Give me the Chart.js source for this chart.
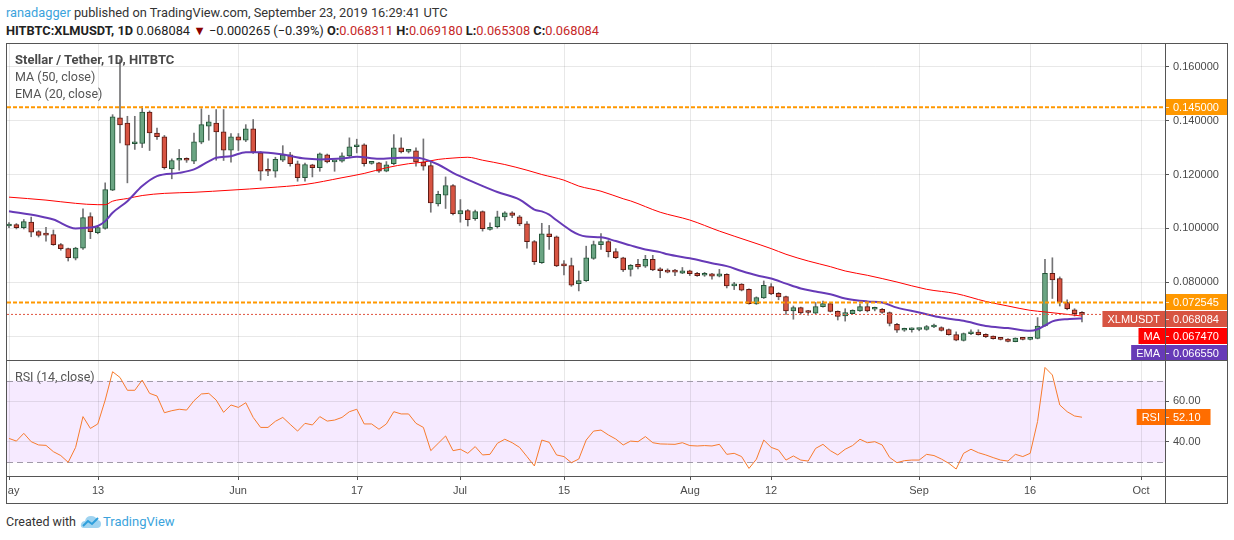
<!DOCTYPE html>
<html><head><meta charset="utf-8">
<script src="https://cdn.jsdelivr.net/npm/chart.js@4.4.0/dist/chart.umd.min.js"></script>
<style>
html,body{margin:0;padding:0;background:#fff;}
body{width:1234px;height:540px;overflow:hidden;position:relative;font-family:Roboto,"Liberation Sans",sans-serif;}
.abs{position:absolute;white-space:nowrap;}
.hd{font-size:12.8px;line-height:18px;color:#333;}
.r{color:#c62828;}
.leg{font-size:12.5px;line-height:18px;color:#555;z-index:5;}
.ln{position:absolute;background:#555;z-index:6;}
canvas{position:absolute;}
</style></head><body>
<div class="abs hd" style="left:6px;top:4px;"><span style="color:#3ba3dc">ranadagger</span> published on TradingView.com, September 23, 2019 16:29:41 UTC</div>
<div class="abs hd" style="left:6px;top:22px;color:#222"><b>HITBTC:XLMUSDT, 1D</b> 0.068084 <span style="color:#8b0000">▼</span> −0.000265 (−0.39%) <b>O:</b><span class="r">0.068311</span> <b>H:</b><span class="r">0.069180</span> <b>L:</b><span class="r">0.065308</span> <b>C:</b><span class="r">0.068084</span></div>

<canvas id="c1" width="1221" height="318" style="left:6px;top:43px"></canvas>
<canvas id="c2" width="1221" height="143" style="left:6px;top:360px"></canvas>

<div class="abs leg" style="left:15px;top:51px;font-weight:bold;color:#4a4a4a;font-size:13px">Stellar / Tether, 1D, HITBTC</div>
<div class="abs leg" style="left:15px;top:68px;">MA (50, close)</div>
<div class="abs leg" style="left:15px;top:85px;">EMA (20, close)</div>
<div class="abs leg" style="left:15px;top:368px;">RSI (14, close)</div>

<div class="ln" style="left:6px;top:43px;width:1222px;height:1px"></div>
<div class="ln" style="left:6px;top:503px;width:1222px;height:1px"></div>
<div class="ln" style="left:6px;top:43px;width:1px;height:461px"></div>
<div class="ln" style="left:1227px;top:43px;width:1px;height:461px"></div>
<div class="ln" style="left:6px;top:360px;width:1222px;height:1px"></div>
<div class="ln" style="left:6px;top:476px;width:1222px;height:1px"></div>
<div class="ln" style="left:1165px;top:43px;width:1px;height:461px"></div>

<div class="abs" style="left:6px;top:513px;font-size:12.5px;line-height:18px;color:#333">Created with</div>
<svg class="abs" style="left:80px;top:513px" width="22" height="18" viewBox="0 0 22 18">
<path d="M4 15 Q0 15 1 11 Q2 8 5 8 Q6 3 11 3 Q16 3 17 7 Q21 7 21 11 Q21 15 17 15 Z" fill="#9fd3f0"/>
<path d="M3 13 L8 8 L12 11 L18 5" stroke="#2e9fdc" stroke-width="2" fill="none"/>
</svg>
<div class="abs" style="left:103px;top:513px;font-size:13px;line-height:18px;color:#3ba3dc">TradingView</div>

<script>
// ---- data ----
const tickIdx = [0,12,31,47,61,75,92,103,123,138,153];
const tickLabels = ['May','13','Jun','17','Jul','15','Aug','12','Sep','16','Oct'];

const open = [.1009,.1014,.1003,.1023,.0988,.0976,.0977,.0940,.0925,.0890,
.0927,.1044,.0984,.1000,.1142,.1410,.1391,.1314,.1315,.1432,
.1354,.1340,.1221,.1253,.1255,.1249,.1320,.1379,.1391,.1358,
.1290,.1340,.1327,.1369,.1280,.1214,.1212,.1253,.1273,.1240,
.1188,.1236,.1225,.1273,.1247,.1249,.1269,.1303,.1310,.1241,
.1243,.1212,.1240,.1299,.1286,.1288,.1246,.1233,.1091,.1123,
.1159,.1054,.1066,.1036,.1062,.0996,.1006,.1043,.1058,.1043,
.1017,.0951,.0873,.0980,.0969,.0862,.0862,.0795,.0806,.0889,
.0940,.0951,.0914,.0891,.0848,.0867,.0860,.0885,.0848,.0844,
.0839,.0834,.0843,.0833,.0826,.0831,.0823,.0830,.0787,.0793,
.0774,.0720,.0742,.0784,.0759,.0747,.0694,.0706,.0689,.0685,
.0710,.0721,.0692,.0675,.0684,.0694,.0710,.0700,.0700,.0688,
.0644,.0622,.0624,.0625,.0625,.0634,.0632,.0625,.0606,.0584,
.0609,.0615,.0607,.0600,.0593,.0589,.0580,.0592,.0588,.0592,
.0638,.0833,.0814,.0725,.0698,.068311];
const high = [.1022,.1018,.1033,.1042,.0992,.1004,.0994,.0944,.0927,.0930,
.1073,.1058,.1010,.1169,.1422,.1626,.1416,.1416,.1453,.1436,
.1372,.1345,.1258,.1293,.1262,.1354,.1444,.1420,.1441,.1441,
.1352,.1352,.1385,.1404,.1285,.1258,.1264,.1307,.1282,.1250,
.1242,.1238,.1280,.1276,.1252,.1280,.1336,.1331,.1314,.1245,
.1245,.1248,.1348,.1336,.1292,.1299,.1332,.1250,.1138,.1191,
.1163,.1107,.1070,.1068,.1065,.1021,.1064,.1062,.1062,.1048,
.1025,.0955,.1019,.1011,.0972,.0881,.0890,.0842,.0934,.0953,
.0981,.0955,.0925,.0893,.0866,.0885,.0900,.0900,.0854,.0850,
.0848,.0855,.0845,.0837,.0837,.0833,.0848,.0832,.0800,.0795,
.0776,.0746,.0805,.0795,.0762,.0749,.0712,.0708,.0696,.0725,
.0730,.0724,.0694,.0702,.0698,.0720,.0727,.0708,.0703,.0690,
.0648,.0630,.0631,.0630,.0640,.0645,.0635,.0627,.0616,.0612,
.0624,.0624,.0609,.0601,.0594,.0591,.0594,.0593,.0595,.0669,
.0885,.0891,.0820,.0735,.0702,.069180];
const low = [.1003,.0998,.0998,.0969,.0968,.0953,.0937,.0919,.0879,.0883,
.0922,.0962,.0980,.0997,.1140,.1317,.1169,.1293,.1300,.1289,
.1330,.1220,.1184,.1216,.1245,.1240,.1314,.1327,.1253,.1252,
.1246,.1289,.1322,.1278,.1179,.1196,.1190,.1248,.1231,.1175,
.1175,.1191,.1212,.1243,.1212,.1246,.1266,.1280,.1231,.1238,
.1208,.1210,.1236,.1280,.1280,.1231,.1216,.1060,.1083,.1074,
.1050,.1023,.1009,.1030,.0990,.0993,.1001,.1030,.1040,.1010,
.0927,.0866,.0870,.0922,.0858,.0827,.0785,.0768,.0803,.0885,
.0922,.0894,.0888,.0840,.0823,.0850,.0855,.0843,.0817,.0835,
.0825,.0832,.0825,.0822,.0822,.0812,.0820,.0779,.0773,.0768,
.0719,.0718,.0740,.0754,.0735,.0681,.0663,.0682,.0678,.0683,
.0708,.0690,.0660,.0656,.0683,.0692,.0690,.0694,.0685,.0638,
.0614,.0618,.0615,.0620,.0622,.0632,.0619,.0604,.0583,.0582,
.0606,.0604,.0595,.0589,.0586,.0579,.0579,.0586,.0586,.0590,
.0636,.0740,.0712,.0698,.0675,.065308];
const close = [.1016,.1003,.1025,.0986,.0974,.0975,.0940,.0925,.0891,.0927,
.1040,.0988,.1003,.1144,.1414,.1384,.1309,.1316,.1432,.1354,
.1340,.1225,.1252,.1255,.1253,.1321,.1385,.1395,.1358,.1290,
.1340,.1327,.1369,.1283,.1212,.1212,.1256,.1273,.1240,.1188,
.1237,.1225,.1277,.1247,.1249,.1269,.1303,.1310,.1240,.1243,
.1212,.1236,.1299,.1284,.1288,.1247,.1231,.1095,.1126,.1159,
.1055,.1066,.1032,.1062,.0999,.1004,.1043,.1058,.1048,.1017,
.0951,.0877,.0980,.0969,.0861,.0861,.0789,.0806,.0891,.0940,
.0951,.0914,.0891,.0846,.0863,.0857,.0885,.0846,.0843,.0838,
.0838,.0843,.0832,.0825,.0827,.0823,.0831,.0787,.0794,.0771,
.0721,.0743,.0789,.0757,.0746,.0694,.0706,.0686,.0688,.0710,
.0721,.0692,.0673,.0688,.0696,.0710,.0694,.0701,.0688,.0647,
.0622,.0626,.0624,.0626,.0636,.0637,.0621,.0606,.0585,.0610,
.0616,.0606,.0598,.0591,.0588,.0581,.0593,.0588,.0593,.0638,
.0833,.0809,.0725,.0702,.06835,.068084];

const maIdx = [0,5,9,12,13,14,16,18,21,25,30,35,40,45,48,51,54,56,58,60,62,64,67,70,72,75,77,80,83,84,88,92,96,100,103,105,108,111,113,116,120,124,128,132,135,138,140,143,145];
const maVal = [.1116,.1105,.1093,.1088,.1088,.1101,.1111,.1122,.1130,.1134,.1142,.1151,.1163,.1188,.1204,.1225,.1240,.1246,.1256,.1261,.1264,.1253,.1237,.1216,.1200,.1179,.1157,.1138,.1110,.1102,.1060,.1031,.0990,.0953,.0925,.0904,.0879,.0858,.0842,.0826,.0801,.0774,.0758,.0729,.0712,.0696,.0690,.0681,.06747];

const emaIdx = [0,4,6,9,11,12,13,14,16,18,20,23,25,27,28,30,32,34,37,40,42,45,47,50,53,55,56,58,60,63,66,69,71,72,73,74,75,76,77,78,80,82,84,86,88,89,92,95,97,99,101,103,105,107,109,111,113,116,118,120,123,126,129,132,135,138,139,140,141,142,143,144,145];
const emaVal = [.1064,.1046,.1033,.1000,.1003,.1009,.1027,.1058,.1101,.1157,.1194,.1206,.1219,.1249,.1262,.1268,.1283,.1283,.1274,.1259,.1256,.1259,.1266,.1258,.1262,.1262,.1258,.1237,.1206,.1169,.1135,.1107,.1070,.1063,.1051,.1030,.1010,.0991,.0977,.0970,.0967,.0953,.0937,.0922,.0912,.0904,.0889,.0871,.0860,.0842,.0826,.0814,.0795,.0777,.0766,.0756,.0740,.0729,.0725,.0706,.0688,.0669,.0657,.0638,.0630,.0620,.0626,.0640,.0655,.0661,.0663,.0665,.06655];

const rsi = [41.7,40.4,44.2,40.1,38.5,38.3,35.2,33.3,30.0,37.3,
52.4,46.6,48.8,60.5,74.4,71.6,65.3,65.3,70.3,63.8,
62.5,54.3,55.3,56.0,55.6,60.2,63.5,63.8,60.5,54.5,
58.1,56.9,59.2,52.0,47.1,47.1,50.1,52.0,48.6,45.3,
49.1,48.3,52.4,50.2,50.7,52.0,54.8,56.0,48.8,48.8,
46.2,48.8,54.8,53.7,53.7,49.1,47.1,35.7,39.3,42.9,
35.7,36.4,34.4,37.7,33.6,33.9,39.3,41.3,39.6,37.3,
32.8,28.2,40.9,39.8,
33.6,32.8,29.8,31.6,40.9,45.3,45.8,43.4,41.4,38.5,
40.4,40.1,42.6,39.6,39.0,38.9,38.8,39.6,38.2,38.0,
38.2,38.0,38.8,33.9,34.4,32.8,27.0,31.5,40.9,37.3,
36.0,31.1,33.1,31.1,30.6,36.8,38.8,35.7,33.6,36.4,
38.2,41.3,39.6,40.1,38.5,32.4,29.8,30.8,31.1,31.1,
33.9,33.3,31.6,29.5,26.7,34.4,36.4,34.7,33.6,32.3,
31.1,30.6,33.9,32.8,34.4,
50.0,76.5,72.8,58.1,54.8,52.7,52.1];

const levels = [0.145, 0.072545];
const priceTicks = [0.06,0.08,0.10,0.12,0.14,0.16];
const rsiTicks = [40,60];
const rsiBand = [30,70];

// ---- style ----
const UP='#6ba583', DOWN='#d75442', UPB='#225437', DOWNB='#5b1a13', WICK='#737375';
const GRID='rgba(0,0,0,0.09)', AXTXT='#4a4a4a';
const AXFONT='11px "Liberation Sans", Arial, sans-serif';
const X_MIN=-0.27, X_MAX=156.22;
Chart.defaults.font.family='"Liberation Sans", Arial, sans-serif';
Chart.defaults.font.size=11;
Chart.defaults.color=AXTXT;

const days = open.map((_,i)=>i);
const last = days.length-1;
const isUp = i => close[i] >= open[i];

function fixAxis(scale){ scale.width = 62; scale.paddingTop = 0; scale.paddingBottom = 0; }

function drawTags(chart, items, fullWidth){
  const {ctx, chartArea:a, scales:{y}} = chart;
  ctx.save();
  ctx.font = AXFONT; ctx.textBaseline='middle';
  let prev = -Infinity;
  items.forEach(t=>{
    const cy = Math.max(y.getPixelForValue(t.value), prev + 17);
    prev = cy;
    const tw = ctx.measureText(t.text).width;
    const bw = fullWidth ? chart.width - a.right : Math.min(8 + tw + 10, chart.width - a.right);
    ctx.fillStyle = t.color;
    ctx.fillRect(a.right, Math.round(cy) - 8, bw, 16);
    if (t.name){
      const nw = ctx.measureText(t.name).width + 10;
      ctx.fillRect(a.right - nw, Math.round(cy) - 8, nw, 16);
      ctx.fillStyle = '#fff'; ctx.textAlign='center';
      ctx.fillText(t.name, a.right - nw/2, Math.round(cy) + 0.5);
    }
    ctx.fillStyle = '#fff'; ctx.textAlign='left';
    ctx.fillText(t.text, a.right + 8, Math.round(cy) + 0.5);
    ctx.strokeStyle = 'rgba(255,255,255,0.8)'; ctx.lineWidth=1;
    ctx.beginPath(); ctx.moveTo(a.right, Math.round(cy)+0.5); ctx.lineTo(a.right+4, Math.round(cy)+0.5); ctx.stroke();
  });
  ctx.restore();
}

function drawVGrid(chart){
  const {ctx, chartArea:a, scales:{x}} = chart;
  ctx.save(); ctx.strokeStyle=GRID; ctx.lineWidth=1;
  tickIdx.forEach(d=>{
    const px = Math.round(x.getPixelForValue(d)) + 0.5;
    if (px < a.left || px > a.right) return;
    ctx.beginPath(); ctx.moveTo(px, a.top); ctx.lineTo(px, a.bottom); ctx.stroke();
  });
  ctx.restore();
}

const priceTagPlugin = {
  id:'priceTags',
  beforeDatasetsDraw(chart){ drawVGrid(chart); },
  afterDraw(chart){
    drawTags(chart, [
      {value:levels[0], text:levels[0].toFixed(6), color:'#ff9800'},
    ], true);
    drawTags(chart, [
      {value:levels[1], text:levels[1].toFixed(6), color:'#ff9800'},
      {value:close[last], text:close[last].toFixed(6), color:DOWN, name:'XLMUSDT'},
      {value:maVal[maVal.length-1], text:maVal[maVal.length-1].toFixed(6), color:'#ff0000', name:'MA'},
      {value:emaVal[emaVal.length-1], text:emaVal[emaVal.length-1].toFixed(6), color:'#673ab7', name:'EMA'},
    ], true);
  }
};

const hline = (v, color, width, dash) => ({
  type:'line', data:[{x:X_MIN,y:v},{x:X_MAX,y:v}], borderColor:color, borderWidth:width,
  borderDash:dash, pointRadius:0, order:0
});

new Chart(document.getElementById('c1'), {
  type:'bar',
  data:{ datasets:[
    { type:'bar', data: days.map(i=>({x:i, y:[low[i], high[i]]})), backgroundColor:WICK,
      barThickness:1, grouped:false, borderWidth:0, order:5 },
    { type:'bar', data: days.map(i=>({x:i, y:[open[i], close[i]]})),
      backgroundColor: days.map(i=>isUp(i)?UP:DOWN), borderColor: days.map(i=>isUp(i)?UPB:DOWNB),
      borderWidth:1, borderSkipped:false, barThickness:5, grouped:false, minBarLength:2, order:4 },
    { type:'line', data: maIdx.map((d,k)=>({x:d, y:maVal[k]})), borderColor:'#ff0000', borderWidth:1,
      pointRadius:0, cubicInterpolationMode:'monotone', order:2 },
    { type:'line', data: emaIdx.map((d,k)=>({x:d, y:emaVal[k]})), borderColor:'#673ab7', borderWidth:2,
      pointRadius:0, cubicInterpolationMode:'monotone', order:1 },
    hline(levels[0], '#ff9800', 2, [4,2]),
    hline(levels[1], '#ff9800', 2, [4,2]),
    hline(close[last], '#e0533f', 1, [2,2]),
  ]},
  options:{
    responsive:false, animation:false, devicePixelRatio:1,
    layout:{padding:{left:1, top:1, bottom:1, right:0}},
    plugins:{legend:{display:false}, tooltip:{enabled:false}},
    scales:{
      x:{ type:'linear', display:false, min:X_MIN, max:X_MAX, offset:false },
      y:{ position:'right', min:0.051169, max:0.168423, beginAtZero:false,
          afterBuildTicks(s){ s.ticks = priceTicks.map(v=>({value:v})); },
          afterFit: fixAxis,
          grid:{ color:GRID, tickColor:'#555', tickLength:4, drawTicks:true },
          border:{ display:false },
          ticks:{ padding:4, color:AXTXT, font:{size:11}, callback:v=>v.toFixed(6) } }
    }
  },
  plugins:[priceTagPlugin]
});

const rsiPlugin = {
  id:'rsiDeco',
  beforeDraw(chart){
    const {ctx, chartArea:a, scales:{y}} = chart;
    ctx.save(); ctx.fillStyle='rgba(153,21,255,0.09)';
    const y1 = y.getPixelForValue(rsiBand[1]), y0 = y.getPixelForValue(rsiBand[0]);
    ctx.fillRect(a.left, y1, a.right-a.left, y0-y1);
    ctx.restore();
  },
  beforeDatasetsDraw(chart){
    drawVGrid(chart);
    const {ctx, chartArea:a, scales:{y}} = chart;
    ctx.save(); ctx.strokeStyle='#a09aa8'; ctx.lineWidth=1; ctx.setLineDash([6,4]);
    rsiBand.forEach(v=>{ const py = Math.round(y.getPixelForValue(v))+0.5;
      ctx.beginPath(); ctx.moveTo(a.left,py); ctx.lineTo(a.right,py); ctx.stroke(); });
    ctx.restore();
  },
  afterDraw(chart){
    const {ctx, chartArea:a, scales:{x}} = chart;
    ctx.save();
    ctx.beginPath(); ctx.rect(a.left, a.bottom, a.right-a.left, chart.height-a.bottom); ctx.clip();
    ctx.font = AXFONT; ctx.fillStyle=AXTXT; ctx.textAlign='center'; ctx.textBaseline='middle';
    ctx.strokeStyle='#555'; ctx.lineWidth=1;
    tickIdx.forEach((d,k)=>{
      const px = Math.round(x.getPixelForValue(d));
      ctx.beginPath(); ctx.moveTo(px+0.5, a.bottom); ctx.lineTo(px+0.5, a.bottom+4); ctx.stroke();
      ctx.fillText(tickLabels[k], px, a.bottom+15);
    });
    ctx.restore();
    drawTags(chart, [{value:rsi[last], text:rsi[last].toFixed(2), color:'#ff6d00', name:'RSI'}], false);
  }
};

new Chart(document.getElementById('c2'), {
  type:'line',
  data:{ datasets:[
    { data: days.map(i=>({x:i, y:rsi[i]})), borderColor:'#f77b2d', borderWidth:1, pointRadius:0, tension:0 }
  ]},
  options:{
    responsive:false, animation:false, devicePixelRatio:1,
    layout:{padding:{left:1, top:1, bottom:27, right:0}},
    plugins:{legend:{display:false}, tooltip:{enabled:false}},
    scales:{
      x:{ type:'linear', display:false, min:X_MIN, max:X_MAX, offset:false },
      y:{ position:'right', min:23.28, max:79.66,
          afterBuildTicks(s){ s.ticks = rsiTicks.map(v=>({value:v})); },
          afterFit: fixAxis,
          grid:{ color:GRID, tickColor:'#555', tickLength:4, drawTicks:true },
          border:{ display:false },
          ticks:{ padding:4, color:AXTXT, font:{size:11}, callback:v=>v.toFixed(2) } }
    }
  },
  plugins:[rsiPlugin]
});
</script>
</body></html>
